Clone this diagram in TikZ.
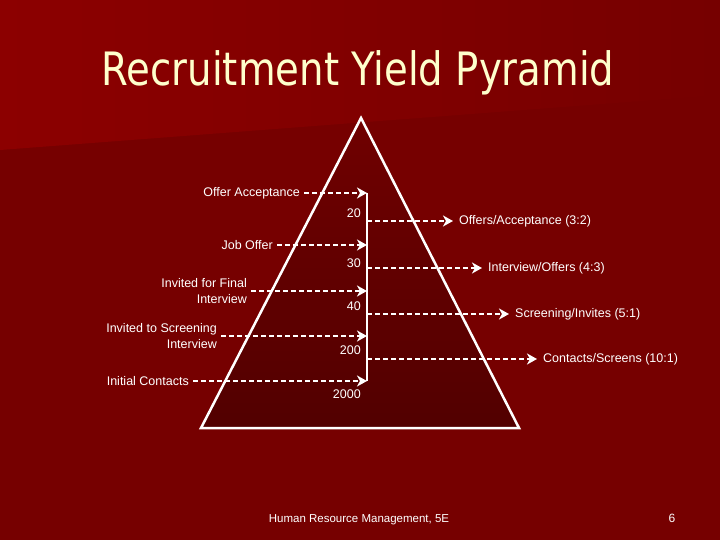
\documentclass[tikz,border=0pt]{standalone}
\usepackage{fontspec}
\usetikzlibrary{arrows.meta}
\setmainfont{Liberation Sans}
\newfontfamily\titlefont{DejaVu Sans}

\definecolor{slidered}{HTML}{760000}
\definecolor{slidelight}{HTML}{8C0000}
\definecolor{pyrtop}{HTML}{700000}
\definecolor{pyrbottom}{HTML}{520000}
\definecolor{cream}{HTML}{FFFFCC}

\begin{document}
\begin{tikzpicture}[x=1pt,y=-1pt,>={Stealth[length=10pt,width=11pt,inset=3pt]},
        lbl/.style={font=\fontsize{12.5}{16}\selectfont, text=white, inner sep=2pt},
        num/.style={font=\fontsize{12.5}{15}\selectfont, text=white, inner sep=1pt, anchor=east},
        flow/.style={->, white, line width=1.8pt, dash pattern=on 5pt off 3pt}]

            % Slide

            \useasboundingbox (0,0) rectangle (720,540);
            \fill[slidered] (0,0) rectangle (720,540);
            \shade[left color=slidelight, right color=slidered] (0,0) -- (720,0) -- (720,95) -- (0,150) -- cycle;

            \node[font=\titlefont\fontsize{46}{50}\selectfont, text=cream, anchor=base] (title) at (358,86)
                {\scalebox{0.84}[1]{Recruitment Yield Pyramid}};

            % Pyramid

            \coordinate (apex) at (361,118);
            \coordinate (bl) at (201,428);
            \coordinate (br) at (519,428);
            \shade[top color=pyrtop, bottom color=pyrbottom] (apex) -- (bl) -- (br) -- cycle;
            \draw[white, line width=2.5pt, line join=miter] (apex) -- (bl) -- (br) -- cycle;

            % Stages

            \foreach \t/\y/\x [count=\i] in {Offer Acceptance/193/302, Job Offer/245/275,
                {Invited for Final\\Interview}/291/249, {Invited to Screening\\Interview}/336/219,
                Initial Contacts/381/191} {
                \node[lbl, align=right, anchor=east] (in\i) at (\x,\y) {\t};
                \coordinate (tip\i) at (367,\y);
                \draw[flow, shorten <=2pt] (in\i) -- (tip\i);
            }
            \draw[white, line width=2pt] (tip1) -- (tip5);

            % Yields

            \foreach \n/\y [count=\i] in {20/213, 30/263, 40/306, 200/350, 2000/394} {
                \node[num] (n\i) at (362,\y) {\n};
            }

            % Ratios

            \foreach \t/\y/\x [count=\i] in {{Offers/Acceptance (3:2)}/221/457, {Interview/Offers (4:3)}/268/486,
                {Screening/Invites (5:1)}/314/513, {Contacts/Screens (10:1)}/359/541} {
                \coordinate (src\i) at (367,\y);
                \node[lbl, anchor=west] (out\i) at (\x,\y) {\t};
                \draw[flow, shorten >=4pt] (src\i) -- (out\i);
            }

            % Footer

            \node[font=\fontsize{11.5}{14}\selectfont, text=white, anchor=base] (foot) at (359,522)
                {Human Resource Management, 5E};
            \node[font=\fontsize{12}{14}\selectfont, text=white, anchor=base] (page) at (672,522) {6};
        \end{tikzpicture}
\end{document}
